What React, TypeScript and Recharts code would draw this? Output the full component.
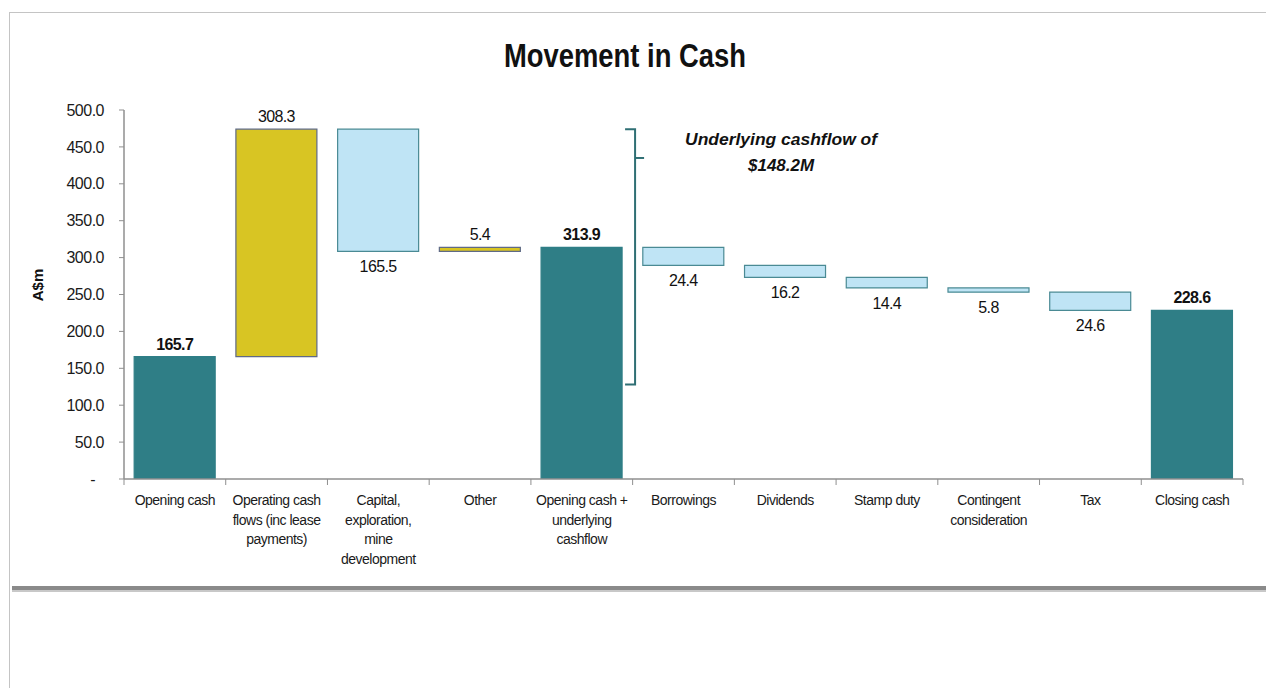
import React from "react";
import { BarChart, Bar, XAxis, YAxis, Cell, LabelList } from "recharts";

// ---------- data ----------
const categories = [
  "Opening cash",
  "Operating cash flows (inc lease payments)",
  "Capital, exploration, mine development",
  "Other",
  "Opening cash + underlying cashflow",
  "Borrowings",
  "Dividends",
  "Stamp duty",
  "Contingent consideration",
  "Tax",
  "Closing cash",
];
const tickLines = [
  ["Opening cash"],
  ["Operating cash", "flows (inc lease", "payments)"],
  ["Capital,", "exploration,", "mine", "development"],
  ["Other"],
  ["Opening cash +", "underlying", "cashflow"],
  ["Borrowings"],
  ["Dividends"],
  ["Stamp duty"],
  ["Contingent", "consideration"],
  ["Tax"],
  ["Closing cash"],
];
// signed movements; "total" rows are absolute levels
const values = [165.7, 308.3, -165.5, 5.4, 313.9, -24.4, -16.2, -14.4, -5.8, -24.6, 228.6];
const kinds = ["total", "up", "down", "up", "total", "down", "down", "down", "down", "down", "total"];
const yTicks = [0, 50, 100, 150, 200, 250, 300, 350, 400, 450, 500];
const bracketTopValue = values[0] + values[1];
const bracketNotchValue = 435;
const bracketBottomValue = 128;
const annotation = ["Underlying cashflow of", "$148.2M"];

const COLORS: Record<string, string> = { total: "#2f7e86", up: "#d8c523", down: "#bfe4f5" };
const STROKES: Record<string, string> = { total: "#2f7e86", up: "#5f6a86", down: "#4a8a94" };

// build waterfall rows
let running = 0;
const rows = categories.map((name, i) => {
  const v = values[i];
  const k = kinds[i];
  let base = 0;
  let size = 0;
  if (k === "total") {
    base = 0;
    size = v;
    running = v;
  } else if (v >= 0) {
    base = running;
    size = v;
    running += v;
  } else {
    running += v;
    base = running;
    size = -v;
  }
  return { name, base, size, kind: k, label: Math.abs(v).toFixed(1) };
});

const FONT = "'Liberation Sans', Arial, sans-serif";

const XTick = (props: any) => {
  const { x, y, payload, index } = props;
  const idx = payload?.index ?? index ?? 0;
  const half = payload?.offset ?? 50.85;
  const lines = tickLines[idx] || [String(payload.value)];
  return (
    <g>
      <line x1={x - half} x2={x - half} y1={y} y2={y + 6} stroke="#8f8f8f" />
      {idx === categories.length - 1 && (
        <line x1={x + half} x2={x + half} y1={y} y2={y + 6} stroke="#8f8f8f" />
      )}
      {lines.map((l: string, j: number) => (
        <text
          key={j}
          x={x}
          y={y + 26 + j * 19.5}
          textAnchor="middle"
          fontSize={14}
          letterSpacing="-0.5px"
          fontFamily={FONT}
          fill="#1a1a1a"
        >
          {l}
        </text>
      ))}
    </g>
  );
};

const YTick = (props: any) => {
  const { x, y, payload } = props;
  const v = payload.value;
  if (v === 0) {
    return (
      <text x={x - 11} y={y} dy="0.35em" textAnchor="middle" fontSize={16} fontFamily={FONT} fill="#1a1a1a">
        -
      </text>
    );
  }
  return (
    <text x={x} y={y} dy="0.35em" textAnchor="end" fontSize={16} letterSpacing="-0.5px" fontFamily={FONT} fill="#1a1a1a">
      {v.toFixed(1)}
    </text>
  );
};

const ValueLabel = (props: any) => {
  const { x, y, width, height, index } = props;
  const r = rows[index];
  if (!r) return null;
  const cx = x + width / 2;
  const nodes: React.ReactNode[] = [];
  if (r.kind === "total") {
    nodes.push(
      <text key="t" x={cx} y={y - 7} textAnchor="middle" fontSize={16} fontWeight="bold" letterSpacing="-0.6px" fontFamily={FONT} fill="#111">
        {r.label}
      </text>
    );
  } else if (r.kind === "up") {
    nodes.push(
      <text key="t" x={cx} y={y - 7} textAnchor="middle" fontSize={16} letterSpacing="-0.6px" fontFamily={FONT} fill="#111">
        {r.label}
      </text>
    );
  } else {
    nodes.push(
      <text key="t" x={cx} y={y + height + 21} textAnchor="middle" fontSize={16} letterSpacing="-0.6px" fontFamily={FONT} fill="#111">
        {r.label}
      </text>
    );
  }
  if (index === 4) {
    const zeroY = y + height;
    const ppu = height / r.size;
    const py = (v: number) => zeroY - v * ppu;
    const lx = x + width + 13;
    const top = py(bracketTopValue);
    const notch = py(bracketNotchValue);
    const bottom = py(bracketBottomValue);
    nodes.push(
      <g key="b" stroke="#2f6f74" strokeWidth={2} fill="none">
        <path d={`M ${lx - 10} ${top} L ${lx} ${top} L ${lx} ${bottom} L ${lx - 10} ${bottom}`} />
        <path d={`M ${lx} ${notch} L ${lx + 9} ${notch}`} />
      </g>
    );
    const ax = lx + 146;
    nodes.push(
      <text key="a1" x={ax} y={top + 16} textAnchor="middle" fontSize={16} fontWeight="bold" fontStyle="italic" fontFamily={FONT} fill="#111" textLength={192} lengthAdjust="spacingAndGlyphs">
        {annotation[0]}
      </text>
    );
    nodes.push(
      <text key="a2" x={ax} y={top + 42} textAnchor="middle" fontSize={16} fontWeight="bold" fontStyle="italic" fontFamily={FONT} fill="#111" textLength={66} lengthAdjust="spacingAndGlyphs">
        {annotation[1]}
      </text>
    );
  }
  return <g>{nodes}</g>;
};

export default function App() {
  return (
    <div style={{ position: "relative", width: 1266, height: 680, background: "#fff", fontFamily: FONT }}>
      <div
        style={{
          position: "absolute",
          left: 1,
          top: 4,
          width: 1265,
          height: 676,
          borderTop: "1px solid #c4c4c4",
          borderLeft: "1px solid #c4c4c4",
          boxSizing: "border-box",
        }}
      />
      <div style={{ position: "absolute", left: 4, top: 578, width: 1262, height: 4, background: "#8a8a8a" }} />
      <div style={{ position: "absolute", left: 4, top: 582, width: 1262, height: 2, background: "#c8c8c8" }} />
      <svg style={{ position: "absolute", left: 0, top: 0 }} width={1266} height={680}>
        <text x={617} y={59} textAnchor="middle" fontSize={33} fontWeight="bold" fontFamily={FONT} fill="#111" textLength={242} lengthAdjust="spacingAndGlyphs">
          Movement in Cash
        </text>
        <text
          x={35}
          y={277}
          transform="rotate(-90 35 277)"
          textAnchor="middle"
          fontSize={15}
          fontWeight="bold"
          fontFamily={FONT}
          fill="#111"
        >
          A$m
        </text>
      </svg>
      <div style={{ position: "absolute", left: 0, top: 0 }}>
        <BarChart
          width={1266}
          height={680}
          data={rows}
          margin={{ top: 102, right: 31, bottom: 129, left: 0 }}
          barCategoryGap="10%"
        >
          <XAxis
            dataKey="name"
            interval={0}
            height={80}
            tickSize={0}
            tickMargin={0}
            tickLine={false}
            axisLine={{ stroke: "#8f8f8f", strokeWidth: 1.5 }}
            tick={<XTick />}
          />
          <YAxis
            domain={[0, 500]}
            ticks={yTicks}
            width={116}
            tickSize={5}
            tickMargin={15}
            axisLine={{ stroke: "#8f8f8f", strokeWidth: 1.5 }}
            tickLine={{ stroke: "#8f8f8f" }}
            tick={<YTick />}
            allowDataOverflow
          />
          <Bar dataKey="base" stackId="w" fill="transparent" isAnimationActive={false} />
          <Bar dataKey="size" stackId="w" isAnimationActive={false}>
            {rows.map((r, i) => (
              <Cell key={i} fill={COLORS[r.kind]} stroke={STROKES[r.kind]} strokeWidth={1.2} />
            ))}
            <LabelList dataKey="size" content={<ValueLabel />} />
          </Bar>
        </BarChart>
      </div>
    </div>
  );
}
